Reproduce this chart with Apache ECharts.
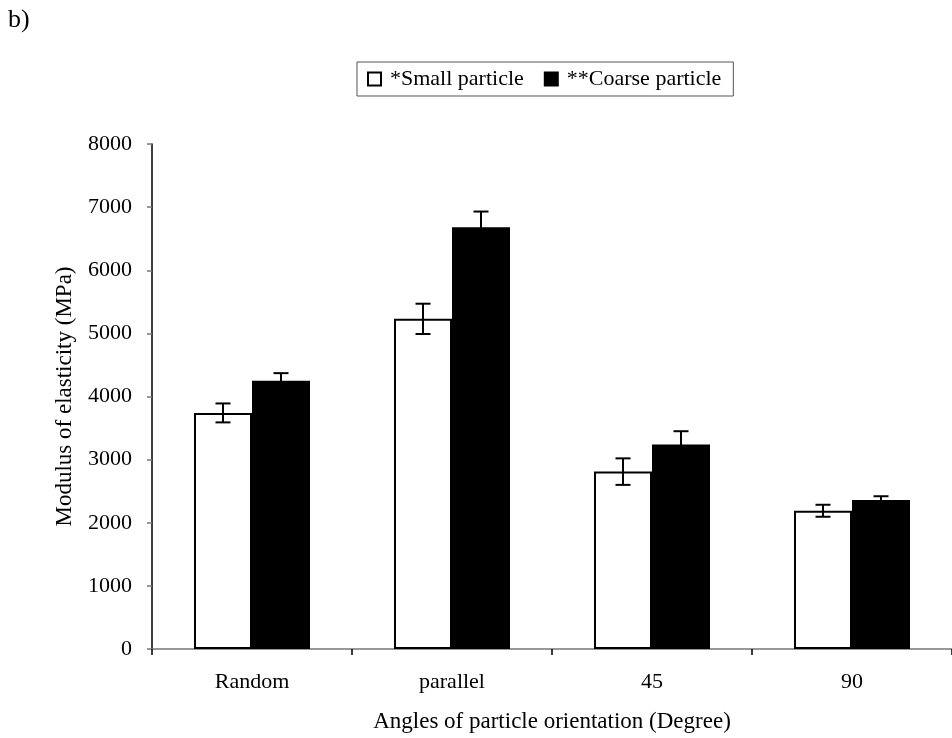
<!DOCTYPE html>
<html lang="en">
<head>
    <meta charset="UTF-8">
    <title>Modulus of elasticity</title>
    <style>
        body { margin: 0; overflow: hidden; background: #fff; }
        #chart { width: 952px; height: 738px; }
    </style>
</head>
<body>
    <div id="chart"></div>
    <script src="https://cdn.jsdelivr.net/npm/echarts@6/dist/echarts.min.js"></script>
    <script>
        // data
        var categories = ['Random', 'parallel', '45', '90'];
        var smallVals = [3740, 5230, 2810, 2190];
        var smallErr = [150, 240, 210, 95];
        var coarseVals = [4250, 6680, 3240, 2360];
        var coarseErr = [120, 250, 210, 60];
        var yTicks = [0, 1000, 2000, 3000, 4000, 5000, 6000, 7000, 8000];

        var serif = '"Liberation Serif", "DejaVu Serif", serif';
        var catGap = 0.42;

        // error bar rows: [category index, value, err]
        function errRows(vals, errs) {
            return vals.map(function (v, i) { return [i, v, errs[i]]; });
        }

        function errBar(side) {
            return function (params, api) {
                var idx = api.value(0);
                var v = api.value(1);
                var e = api.value(2);
                var band = api.size([1, 0])[0];
                var bw = band * (1 - catGap) / 2;
                var c = api.coord([idx, v]);
                var x = c[0] + side * bw / 2;
                var top = api.coord([idx, v + e])[1];
                var bot = api.coord([idx, v - e])[1];
                var cap = 7.5;
                var st = { stroke: '#000', lineWidth: 2 };
                return {
                    type: 'group',
                    children: [
                        { type: 'line', shape: { x1: x, y1: top, x2: x, y2: bot }, style: st },
                        { type: 'line', shape: { x1: x - cap, y1: top, x2: x + cap, y2: top }, style: st },
                        { type: 'line', shape: { x1: x - cap, y1: bot, x2: x + cap, y2: bot }, style: st }
                    ]
                };
            };
        }

        var myChart = echarts.init(document.getElementById('chart'));

        var option = {
            animation: false,
            backgroundColor: '#fff',
            textStyle: { fontFamily: serif, color: '#000' },
            graphic: [{
                type: 'text',
                left: 8,
                top: 7,
                style: { text: 'b)', font: '26px ' + serif, fill: '#000' }
            }],
            legend: {
                left: 357,
                top: 62,
                padding: [6, 12, 6, 10],
                itemWidth: 13,
                itemHeight: 13,
                itemGap: 20,
                borderColor: '#555',
                borderWidth: 1,
                icon: 'rect',
                textStyle: { fontFamily: serif, fontSize: 22, color: '#000', padding: [0, 0, 0, 4] },
                data: ['*Small particle', '**Coarse particle']
            },
            grid: {
                left: 152,
                top: 144,
                width: 804,
                height: 505
            },
            xAxis: {
                type: 'category',
                data: categories,
                name: 'Angles of particle orientation (Degree)',
                nameLocation: 'middle',
                nameGap: 61,
                nameMoveOverlap: false,
                nameTextStyle: { fontFamily: serif, fontSize: 23, color: '#000' },
                axisLine: { lineStyle: { color: '#777', width: 1.5 } },
                axisTick: { show: true, length: 6, lineStyle: { color: '#000', width: 1.5 } },
                axisLabel: { margin: 22, fontFamily: serif, fontSize: 22, color: '#000' }
            },
            yAxis: {
                type: 'value',
                min: yTicks[0],
                max: yTicks[yTicks.length - 1],
                interval: 1000,
                name: 'Modulus of elasticity (MPa)',
                nameLocation: 'middle',
                nameGap: 76,
                nameMoveOverlap: false,
                nameTextStyle: { fontFamily: serif, fontSize: 23, color: '#000' },
                splitLine: { show: false },
                axisLine: { show: true, lineStyle: { color: '#000', width: 1.5 } },
                axisTick: { show: true, length: 5, lineStyle: { color: '#777', width: 1.5 } },
                axisLabel: {
                    margin: 20,
                    fontFamily: serif,
                    fontSize: 22,
                    color: '#000',
                    formatter: function (v) { return String(v); }
                }
            },
            series: [
                {
                    name: '*Small particle',
                    type: 'bar',
                    barGap: '0%',
                    barCategoryGap: (catGap * 100) + '%',
                    itemStyle: { color: '#fff', borderColor: '#000', borderWidth: 2 },
                    data: smallVals
                },
                {
                    name: '**Coarse particle',
                    type: 'bar',
                    barGap: '0%',
                    barCategoryGap: (catGap * 100) + '%',
                    itemStyle: { color: '#000', borderColor: '#000', borderWidth: 2 },
                    data: coarseVals
                },
                {
                    type: 'custom',
                    renderItem: errBar(-1),
                    z: 5,
                    silent: true,
                    data: errRows(smallVals, smallErr)
                },
                {
                    type: 'custom',
                    renderItem: errBar(1),
                    z: 5,
                    silent: true,
                    data: errRows(coarseVals, coarseErr)
                }
            ]
        };

        myChart.setOption(option);
    </script>
</body>
</html>
